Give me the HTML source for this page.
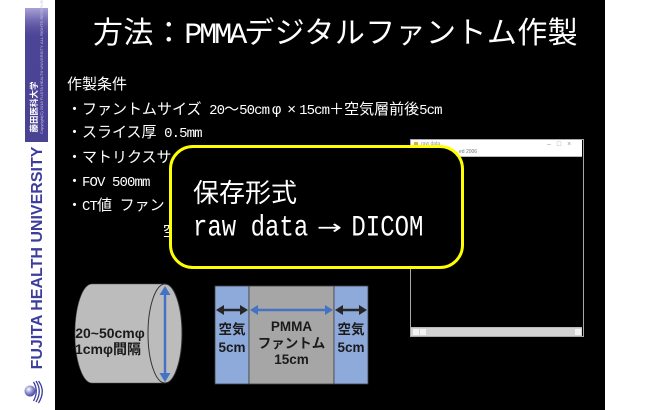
<!DOCTYPE html>
<html><head><meta charset="utf-8">
<style>
*{margin:0;padding:0;box-sizing:border-box}
html,body{width:660px;height:410px;overflow:hidden;background:#fff}
body{position:relative;font-family:"Liberation Sans","Noto Sans CJK JP",sans-serif}
.a{position:absolute;white-space:nowrap}
.slide{left:55px;top:0;width:550px;height:410px;background:#000}
.t{font-size:15px;line-height:20px;color:#fff;font-family:"Liberation Sans","Noto Sans CJK JP",sans-serif}
.h{font-family:"Liberation Mono",monospace;font-size:14px;letter-spacing:-0.9px}
.f{display:inline-block;width:15px;text-align:center}
</style></head><body>

<!-- sidebar -->
<div class="a" style="left:25px;top:8px;width:23px;height:134px;background:linear-gradient(to bottom,#a7a2d2 0px,#8d86c4 6px,#6f67b0 13px,#5a519f 20px,#4c4495 28px,#4a4293 100%)"></div>
<div class="a" style="left:4px;top:102px;width:60px;height:10px;line-height:10px;font-size:8.5px;font-weight:bold;color:#fff;text-align:center;transform:rotate(-90deg);font-family:'Liberation Sans','Noto Sans CJK JP',sans-serif">藤田医科大学</div>
<div class="a" style="left:-20px;top:69px;width:124px;height:6px;line-height:6px;font-size:4px;color:#c4c0e4;text-align:center;transform:rotate(-90deg)">Copyright(C) 2018 FUJITA HEALTH UNIVERSITY. ALL RIGHTS RESERVED.</div>
<div class="a" style="left:-77px;top:248px;width:230px;height:20px;line-height:20px;font-size:16px;font-weight:bold;color:#3d3d9c;text-align:center;transform:rotate(-90deg)">FUJITA HEALTH UNIVERSITY</div>

<!-- slide background -->
<div class="a slide"></div>

<svg class="a" style="left:0;top:0" width="660" height="410" viewBox="0 0 660 410">
  <defs>
    <radialGradient id="sph" cx="0.38" cy="0.35" r="0.7">
      <stop offset="0" stop-color="#ffffff"/>
      <stop offset="0.45" stop-color="#9a9ad8"/>
      <stop offset="1" stop-color="#3c3c9a"/>
    </radialGradient>
  </defs>
  <!-- logo -->
  <circle cx="30" cy="391" r="5.5" fill="url(#sph)"/>
  <path d="M33.5,382 Q39,391 33.5,401" stroke="#3d3d9c" stroke-width="1.3" fill="none"/>
  <path d="M36,381 Q42.5,391 36,402" stroke="#3d3d9c" stroke-width="1.3" fill="none"/>
  <path d="M38.5,381 Q46,391 38.5,403" stroke="#3d3d9c" stroke-width="1.3" fill="none"/>

  <!-- cylinder -->
  <path d="M92,284 L165,284 L165,383 L92,383 A17,49.5 0 0 1 92,284 Z" fill="#bcbcbc" stroke="#555" stroke-width="0.6"/>
  <ellipse cx="165" cy="333.5" rx="17" ry="49.5" fill="#bcbcbc" stroke="#333" stroke-width="1"/>
  <line x1="165" y1="293" x2="165" y2="374" stroke="#4472c4" stroke-width="2.5"/>
  <polygon points="165,286 159.5,295 170.5,295" fill="#4472c4"/>
  <polygon points="165,382 159.5,373 170.5,373" fill="#4472c4"/>
  <text x="110" y="338" text-anchor="middle" font-family="Liberation Sans, Noto Sans CJK JP, sans-serif" font-size="14" font-weight="bold" fill="#1a1a1a">20~50cmφ</text>
  <text x="108" y="354" text-anchor="middle" font-family="Liberation Sans, Noto Sans CJK JP, sans-serif" font-size="14" font-weight="bold" fill="#1a1a1a">1cmφ間隔</text>

  <!-- layer diagram -->
  <rect x="215" y="286" width="34" height="98" fill="#8eaadb" stroke="#404040" stroke-width="0.8"/>
  <rect x="249" y="286" width="85" height="98" fill="#a6a6a6" stroke="#404040" stroke-width="0.8"/>
  <rect x="334" y="286" width="34" height="98" fill="#8eaadb" stroke="#404040" stroke-width="0.8"/>

  <line x1="222" y1="310" x2="242" y2="310" stroke="#262626" stroke-width="2.5"/>
  <polygon points="216,310 224,305 224,315" fill="#262626"/>
  <polygon points="248,310 240,305 240,315" fill="#262626"/>

  <line x1="256" y1="310" x2="327" y2="310" stroke="#4472c4" stroke-width="2.5"/>
  <polygon points="250,310 258,305 258,315" fill="#4472c4"/>
  <polygon points="333,310 325,305 325,315" fill="#4472c4"/>

  <line x1="341" y1="310" x2="361" y2="310" stroke="#262626" stroke-width="2.5"/>
  <polygon points="335,310 343,305 343,315" fill="#262626"/>
  <polygon points="367,310 359,305 359,315" fill="#262626"/>

  <g font-family="Liberation Sans, Noto Sans CJK JP, sans-serif" font-size="13.5" font-weight="bold" fill="#1a1a1a" text-anchor="middle">
    <text x="232" y="334">空気</text>
    <text x="232" y="352">5cm</text>
    <text x="291.5" y="331">PMMA</text>
    <text x="291.5" y="348">ファントム</text>
    <text x="291.5" y="364">15cm</text>
    <text x="351" y="334">空気</text>
    <text x="351" y="352">5cm</text>
  </g>
</svg>

<!-- title -->
<div class="a" style="left:93px;top:16px;font-size:30px;line-height:36px;color:#fff;font-weight:normal;letter-spacing:0.4px;font-family:'Liberation Sans','Noto Sans CJK JP',sans-serif">方法：<span style="font-family:'Liberation Mono',monospace;letter-spacing:-3px">PMMA</span>デジタルファントム作製</div>

<!-- bullet text -->
<div class="a t" style="left:67px;top:75px">作製条件</div>
<div class="a t" style="left:67px;top:100px">・ファントムサイズ<span class="h"> 20</span>～<span class="h">50cm</span><span class="f">φ</span><span class="f">×</span><span class="h">15cm</span>＋空気層前後<span class="h">5cm</span></div>
<div class="a t" style="left:67px;top:123px">・スライス厚<span class="h"> 0.5mm</span></div>
<div class="a t" style="left:67px;top:148px">・マトリクスサイズ<span class="h"> 512</span><span class="f">×</span><span class="h">512</span></div>
<div class="a t" style="left:67px;top:172px">・<span class="h">FOV 500mm</span></div>
<div class="a t" style="left:67px;top:196px">・<span class="h">CT</span>値<span class="h"> </span>ファントム</div>
<div class="a t" style="left:163px;top:222px">空気</div>

<!-- window -->
<div class="a" style="left:410px;top:139px;width:174px;height:198px;border:1.5px solid #a8a8a8;background:#000">
  <div style="position:absolute;left:0;top:0;width:171px;height:17px;background:#fff;border-bottom:1px solid #bbb"></div>
  <div style="position:absolute;left:3px;top:2px;width:4px;height:5px;background:#e0b040"></div>
  <div style="position:absolute;left:10px;top:1px;font-size:5px;line-height:6px;color:#999">raw data</div>
  <div style="position:absolute;left:48px;top:9px;font-size:5px;line-height:6px;color:#777">ed 2006</div>
  <div style="position:absolute;left:136px;top:1px;font-size:7px;line-height:8px;color:#999;letter-spacing:6px">–□×</div>
  <div style="position:absolute;left:0;bottom:0;width:171px;height:9px;background:#d2d2d2;border-top:1px solid #bbb"></div>
  <div style="position:absolute;left:2px;bottom:1px;width:6px;height:6px;background:#f2f2f2"></div>
  <div style="position:absolute;left:9px;bottom:1px;width:6px;height:6px;background:#f2f2f2"></div>
  <div style="position:absolute;right:2px;bottom:1px;width:6px;height:6px;background:#f2f2f2"></div>
</div>

<!-- yellow callout -->
<div class="a" style="left:169px;top:145px;width:295px;height:124px;border:3px solid #ffff00;border-radius:24px;background:#000"></div>
<div class="a" style="left:193px;top:178px;font-size:26px;line-height:30px;color:#fff;font-family:'Liberation Sans','Noto Sans CJK JP',sans-serif">保存形式</div>
<div class="a" style="left:193px;top:215px;font-size:24px;line-height:24px;color:#fff;font-family:'Liberation Mono','DejaVu Sans Mono',monospace;transform:scaleY(1.25);transform-origin:0 50%">raw data<span style="display:inline-block;width:43.2px;text-align:center;font-family:'DejaVu Sans',sans-serif;font-size:20px;transform:scale(1.5,0.8)">→</span>DICOM</div>

</body></html>
